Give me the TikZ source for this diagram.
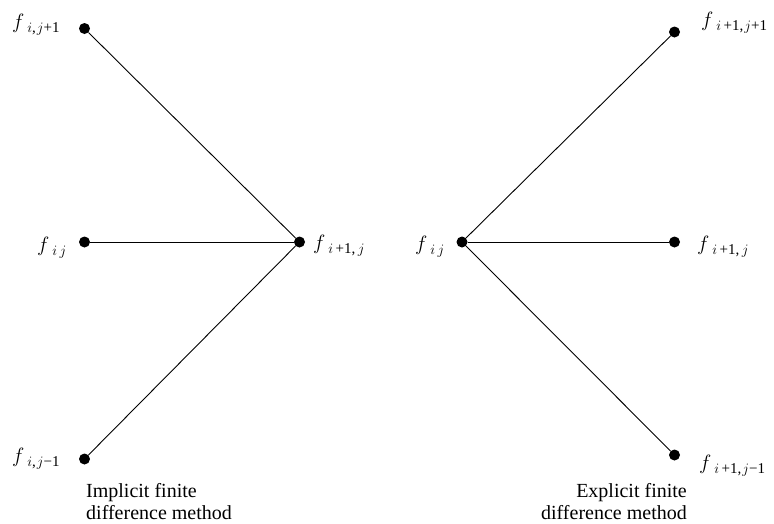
\documentclass[tikz,border=0pt]{standalone}
\usepackage{fontspec}
\setmainfont{Liberation Serif}
\newcommand\flab[1]{$f$\kern3pt\raisebox{-4pt}{\fontsize{15}{15}\selectfont #1}}
\tikzset{
  dot/.style={circle, fill=black, inner sep=0pt, minimum size=11pt},
  lab/.style={inner sep=0pt, font=\fontsize{21}{21}\selectfont},
  captext/.style={inner sep=0pt, font=\fontsize{20}{22}\selectfont},
  conn/.style={line width=0.9pt}
}
\begin{document}
\begin{tikzpicture}[x=1pt,y=-1pt]
\useasboundingbox (0,0) rectangle (774,523);
% implicit
\node[dot] (A) at (84.5,28.5) {};
\node[dot] (B) at (84.5,242) {};
\node[dot] (C) at (84.5,459) {};
\node[dot] (D) at (299.5,242) {};
\draw[conn] (A) -- (D);
\draw[conn] (B) -- (D);
\draw[conn] (C) -- (D);
\node[lab, anchor=base west] (lA) at (12,28) {\flab{$i$,\kern1pt$j$+1}};
\node[lab, anchor=base west] (lB) at (37,251) {\flab{$i$\,$j$}};
\node[lab, anchor=base west] (lC) at (12,462) {\flab{$i$,\kern1pt$j$−1}};
\node[lab, anchor=base west] (lD) at (313,249) {\flab{$i$\,+1,\,$j$}};
\node[captext, anchor=base west, align=left] (capL) at (86,519) {Implicit finite\\difference method};
% explicit
\node[dot] (E) at (462,242) {};
\node[dot] (F) at (674.5,32) {};
\node[dot] (G) at (674.5,242) {};
\node[dot] (H) at (674.5,455) {};
\draw[conn] (E) -- (F);
\draw[conn] (E) -- (G);
\draw[conn] (E) -- (H);
\node[lab, anchor=base west] (lE) at (415,250) {\flab{$i$\,$j$}};
\node[lab, anchor=base west] (lF) at (701,26) {\flab{$i$\,+1,\kern1pt$j$+1}};
\node[lab, anchor=base west] (lG) at (697,250) {\flab{$i$\,+1,\,$j$}};
\node[lab, anchor=base west] (lH) at (699,469) {\flab{$i$\,+1,\kern1pt$j$−1}};
\node[captext, anchor=base east, align=right] (capR) at (687,519) {Explicit finite\\difference method};
\end{tikzpicture}
\end{document}
